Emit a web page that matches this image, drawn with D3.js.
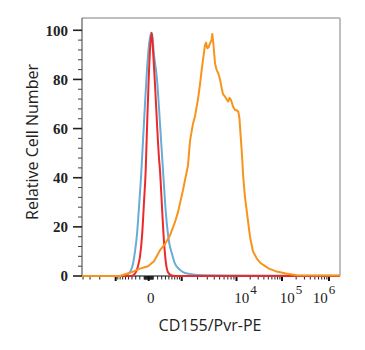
<!DOCTYPE html>
<html>
<head>
<meta charset="utf-8">
<script src="https://cdn.jsdelivr.net/npm/d3@7"></script>
<style>
  body { margin: 0; background: #fff; }
  svg { display: block; }
</style>
</head>
<body>
<div id="chart"></div>
<script>
// histogram bins are channels along the display axis (0..258)
const blueCh    = [0, 40, 45, 48, 51, 53, 55, 57, 59, 61, 63, 65, 67, 69, 70, 72, 75, 78, 81, 84, 87, 90, 93, 98, 103, 113, 128, 160, 258];
const blueCount = [0, 0, 0.5, 1.5, 5, 10, 17, 28, 40, 55, 70, 84, 94, 99, 98.5, 90, 80, 62, 43, 25, 14, 9, 5, 2.5, 1.2, 0.5, 0.3, 0.2, 0.1];

const redCh    = [0, 49, 53, 56, 58, 60, 62, 63.7, 65, 66.5, 68, 69.7, 71, 73, 75, 77, 78, 80, 82, 84, 86, 89, 93, 258];
const redCount = [0, 0, 1, 4, 8, 16, 30, 43, 60, 78, 92, 99, 92, 78, 62, 48, 43, 28, 14, 5, 1.5, 0.3, 0, 0];

const orangeCh    = [0, 38, 44, 51, 58, 66, 72, 78, 83, 88, 93, 96, 101, 104, 106, 108, 111, 113, 116, 118, 119.7, 121, 123, 124, 125.3, 126.5, 128, 129.5, 130.3, 131.5, 133, 134.5, 136.3, 138, 139.7, 141, 143, 144.5, 146.3, 147.5, 149, 151, 153, 154.5, 156.3, 157.5, 158, 159.7, 161.3, 163, 165.5, 168, 171, 174.7, 178, 181.3, 187, 194.7, 204, 214.7, 258];
const orangeCount = [0, 0, 0.8, 1.8, 3, 4, 6, 10.5, 13, 16.5, 22, 26, 35, 41, 45, 55, 62, 65, 72, 78, 84, 88, 94, 95, 92.7, 93, 94.7, 96, 98.5, 94, 86.6, 84, 82.5, 80, 76.4, 74, 73, 72, 71, 72.5, 71.6, 69, 67.6, 67.5, 66.9, 64, 60.8, 51, 40, 32, 24, 16, 10, 7.2, 5.5, 4.5, 3, 1.8, 1, 0.3, 0.2];

// axis: intensity anchors of the biexponential display and their channels
const anchorVals = [-10000, -1000, 0, 1000, 10000, 100000, 1000000];
const anchorCh   = [-21.3, 33.7, 66.7, 99.7, 154.5, 200, 247];

const yTicks = [0, 20, 40, 60, 80, 100];
const xMajor = [-1000, 0, 1000, 10000, 100000, 1000000];
const xLabels = [
  {v: 0, base: "0", exp: ""},
  {v: 10000, base: "10", exp: "4"},
  {v: 100000, base: "10", exp: "5"},
  {v: 1000000, base: "10", exp: "6"}
];

const width = 365, height = 350;
const margin = {top: 18, right: 25, bottom: 74, left: 82};
const plotW = width - margin.left - margin.right;
const plotH = height - margin.top - margin.bottom;

const svg = d3.select("#chart").append("svg")
  .attr("width", width)
  .attr("height", height);

const g = svg.append("g")
  .attr("transform", `translate(${margin.left},${margin.top})`);

// scales
const tf = v => Math.asinh(v / 500);
const chScale = d3.scaleLinear().domain(anchorVals.map(tf)).range(anchorCh);
const x = d3.scaleLinear().domain([0, 258]).range([0, plotW]);
const xv = v => x(chScale(tf(v)));
const y = d3.scaleLinear().domain([0, 105]).range([plotH, 0]);

// minor x ticks
let xMinor = [];
[10, 100, 1000, 10000, 100000].forEach(d => {
  for (let k = 1; k <= 9; k++) {
    const v = k * d;
    if (!xMajor.includes(v)) xMinor.push(v);
    if (d <= 1000 && !xMajor.includes(-v)) xMinor.push(-v);
  }
});
xMinor = xMinor.filter(v => xv(v) >= 0 && xv(v) <= plotW);

// frame top / right
g.append("line").attr("x1", 0).attr("x2", plotW).attr("y1", 0).attr("y2", 0)
  .attr("stroke", "#a8a8a8").attr("stroke-width", 1.5);
g.append("line").attr("x1", plotW).attr("x2", plotW).attr("y1", 0).attr("y2", plotH)
  .attr("stroke", "#a8a8a8").attr("stroke-width", 1.5);

// y axis
const yMinor = d3.range(0, 101, 4).filter(v => v % 20 !== 0);
g.append("line").attr("x1", 0).attr("x2", 0).attr("y1", 0).attr("y2", plotH)
  .attr("stroke", "#666").attr("stroke-width", 1.3);
g.selectAll(".ymin").data(yMinor).enter().append("line")
  .attr("x1", -4).attr("x2", 0)
  .attr("y1", d => y(d)).attr("y2", d => y(d))
  .attr("stroke", "#444").attr("stroke-width", 1);
g.selectAll(".ymaj").data(yTicks).enter().append("line")
  .attr("x1", -9).attr("x2", 0)
  .attr("y1", d => y(d)).attr("y2", d => y(d))
  .attr("stroke", "#222").attr("stroke-width", 1.6);
g.selectAll(".ylab").data(yTicks).enter().append("text")
  .attr("x", -14).attr("y", d => y(d)).attr("dy", "0.35em")
  .attr("text-anchor", "end")
  .style("font-family", "'Liberation Serif', serif")
  .style("font-weight", "bold")
  .style("font-size", "15px")
  .attr("fill", "#222")
  .text(d => d);

// x axis
g.append("line").attr("x1", 0).attr("x2", plotW).attr("y1", plotH).attr("y2", plotH)
  .attr("stroke", "#555").attr("stroke-width", 1.3);
g.selectAll(".xmin").data(xMinor).enter().append("line")
  .attr("x1", d => xv(d)).attr("x2", d => xv(d))
  .attr("y1", plotH).attr("y2", plotH + 3.5)
  .attr("stroke", "#222").attr("stroke-width", 1);
g.selectAll(".xmaj").data(xMajor).enter().append("line")
  .attr("x1", d => xv(d)).attr("x2", d => xv(d))
  .attr("y1", plotH).attr("y2", plotH + 5)
  .attr("stroke", "#111").attr("stroke-width", 2);

const xl = g.selectAll(".xlab").data(xLabels).enter().append("text")
  .attr("x", d => Math.min(xv(d.v) + (d.exp ? 9 : 2), plotW - 16))
  .attr("y", plotH + 27)
  .attr("text-anchor", "middle")
  .style("font-family", "'Liberation Serif', serif")
  .style("font-size", "15px")
  .attr("fill", "#222");
xl.append("tspan").text(d => d.base);
xl.append("tspan").attr("dy", -9).attr("dx", 1).style("font-size", "13px").text(d => d.exp);

// curves
const line = d3.line()
  .x(d => x(d[0]))
  .y(d => y(d[1]));

const series = [
  {ch: blueCh, count: blueCount, color: "#68acd8", curve: d3.curveMonotoneX},
  {ch: redCh, count: redCount, color: "#ec2a2a", curve: d3.curveMonotoneX},
  {ch: orangeCh, count: orangeCount, color: "#f7941d", curve: d3.curveLinear}
];

series.forEach(s => {
  g.append("path")
    .datum(s.ch.map((c, i) => [c, s.count[i]]))
    .attr("fill", "none")
    .attr("stroke", s.color)
    .attr("stroke-width", 2)
    .attr("stroke-linejoin", "round")
    .attr("d", line.curve(s.curve));
});

// axis titles
svg.append("text")
  .attr("transform", `translate(38,${margin.top + plotH / 2 - 5}) rotate(-90)`)
  .attr("text-anchor", "middle")
  .style("font-family", "'Open Sans', sans-serif")
  .style("font-size", "16px")
  .attr("fill", "#222")
  .text("Relative Cell Number");

svg.append("text")
  .attr("x", 210).attr("y", 331)
  .attr("text-anchor", "middle")
  .style("font-family", "'Open Sans', sans-serif")
  .style("font-size", "16px")
  .attr("fill", "#222")
  .text("CD155/Pvr-PE");
</script>
</body>
</html>
